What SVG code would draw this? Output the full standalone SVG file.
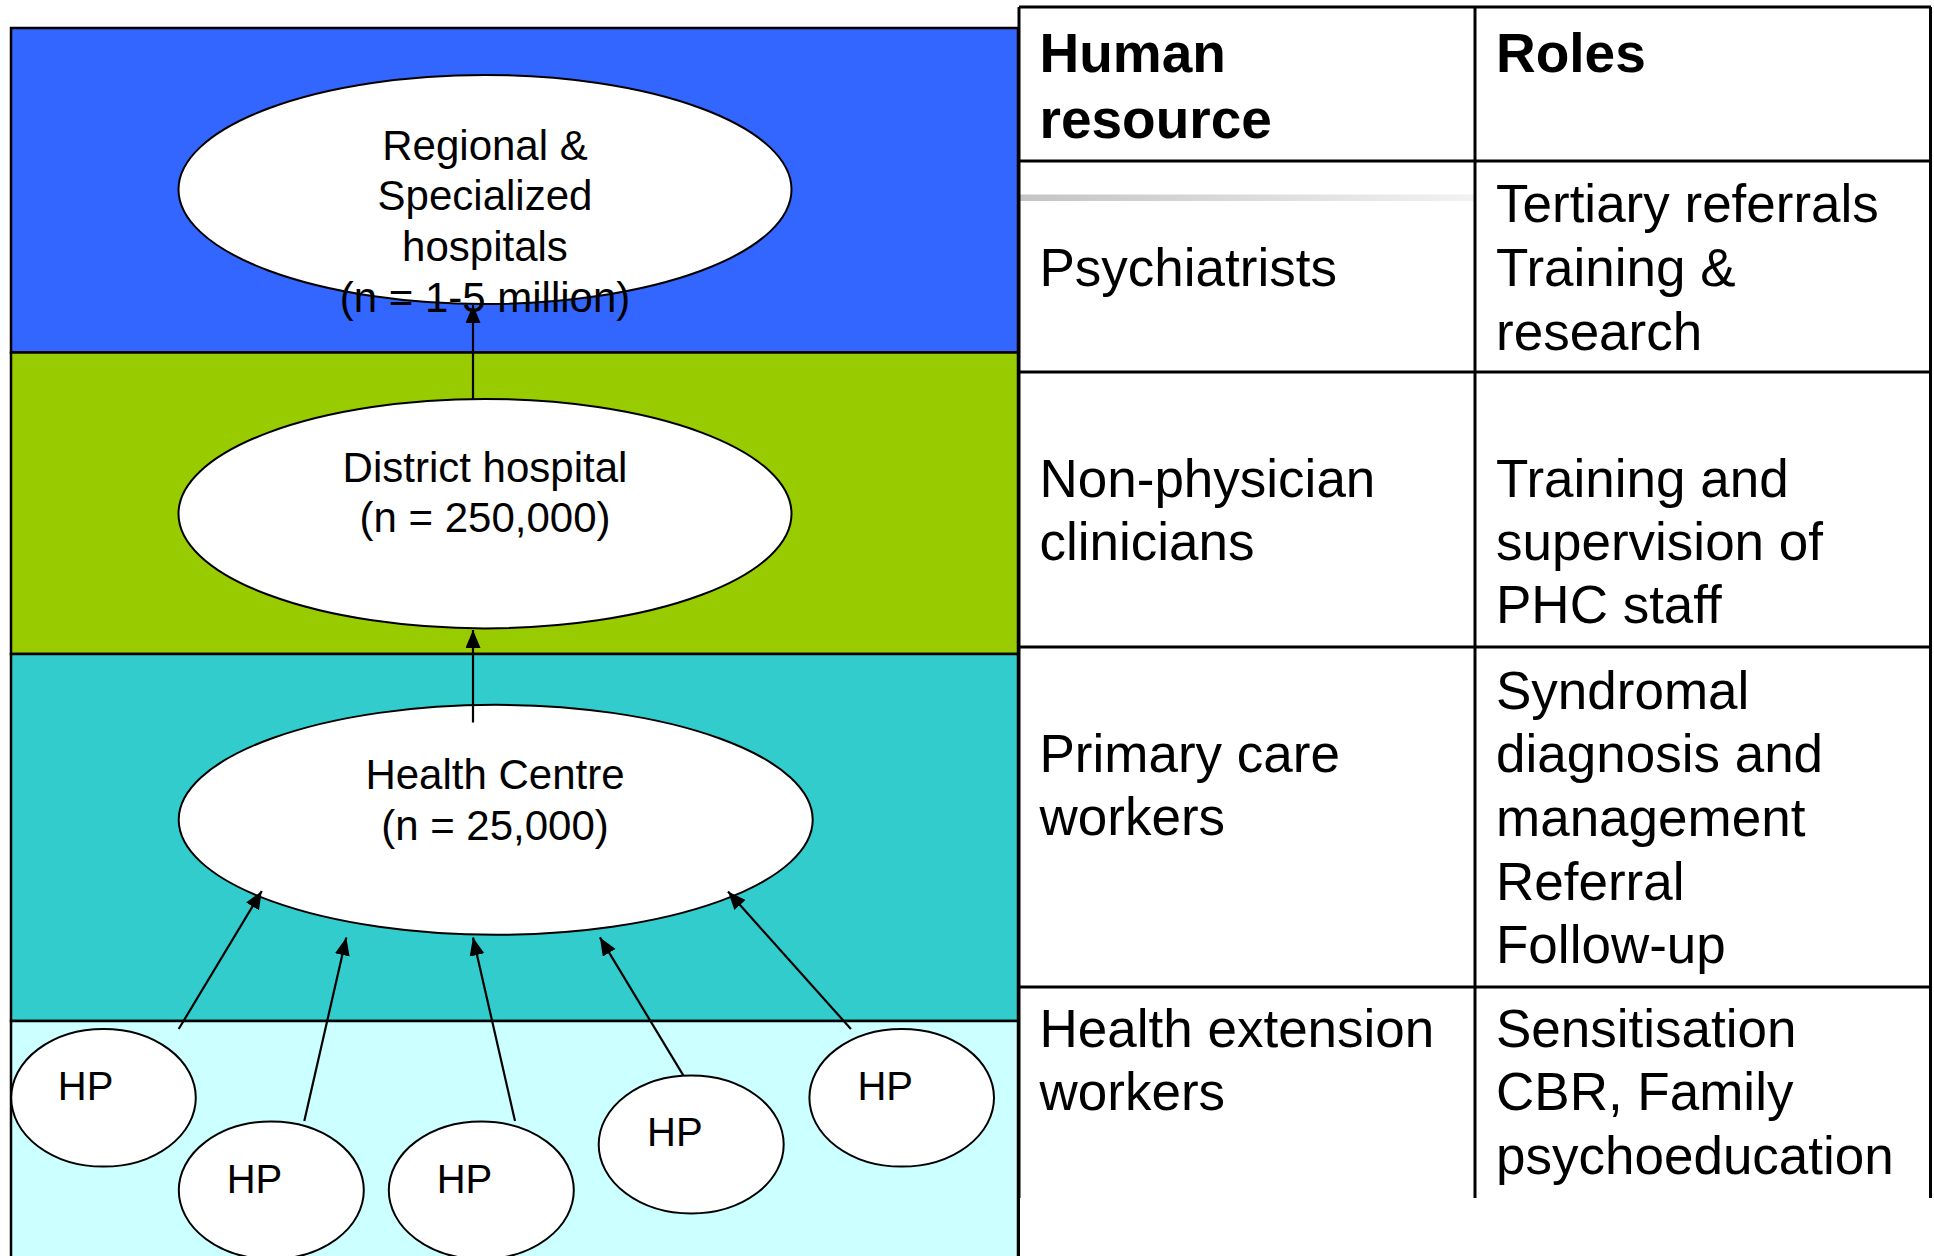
<svg xmlns="http://www.w3.org/2000/svg" width="1934" height="1256" viewBox="0 0 1934 1256">
  <style>
    .band { stroke: #000; stroke-width: 2.5; }
    .node { fill: #fff; stroke: #000; stroke-width: 2; }
    .lbl { font-family: "Liberation Sans", Arial, sans-serif; font-size: 42px; fill: #000; text-anchor: middle; }
    .hp { font-family: "Liberation Sans", Arial, sans-serif; font-size: 40px; fill: #000; }
    .edge { stroke: #000; stroke-width: 2.2; fill: none; marker-end: url(#head); }
    .grid { stroke: #000; stroke-width: 3; fill: none; }
    .th { font-family: "Liberation Sans", Arial, sans-serif; font-size: 55px; font-weight: bold; fill: #000; }
    .td { font-family: "Liberation Sans", Arial, sans-serif; font-size: 53px; fill: #000; }
  </style>
  <defs>
    <marker id="head" markerUnits="userSpaceOnUse" markerWidth="20" markerHeight="16" refX="18" refY="7.5" orient="auto">
      <path d="M0,0 L18,7.5 L0,15 z" fill="#000"/>
    </marker>
    <linearGradient id="fade" x1="0" y1="0" x2="1" y2="0">
      <stop offset="0" stop-color="#c4c4c4"/>
      <stop offset="1" stop-color="#f2f2f2"/>
    </linearGradient>
  </defs>

  <rect width="1934" height="1256" fill="#fff"/>

  <!-- service levels -->
  <g id="levels">
    <rect class="band" x="11" y="28" width="1007" height="324.5" fill="#3366FF"/>
    <rect class="band" x="11" y="352.5" width="1007" height="301.5" fill="#99CC00"/>
    <rect class="band" x="11" y="654" width="1007" height="367" fill="#33CCCC"/>
    <rect class="band" x="11" y="1021" width="1007" height="245" fill="#CCFFFF"/>
  </g>

  <!-- facilities -->
  <g id="regional">
    <ellipse class="node" cx="485" cy="189.5" rx="306.5" ry="114.5"/>
  </g>
  <g id="district">
    <ellipse class="node" cx="485" cy="513.7" rx="306.5" ry="114.7"/>
    <text class="lbl" x="485" y="481.9">District hospital</text>
    <text class="lbl" x="485" y="532.4">(n = 250,000)</text>
  </g>
  <g id="health-centre">
    <ellipse class="node" cx="495.7" cy="819.8" rx="317" ry="115"/>
    <text class="lbl" x="495" y="788.5">Health Centre</text>
    <text class="lbl" x="495" y="839.6">(n = 25,000)</text>
  </g>
  <g id="hp1">
    <ellipse class="node" cx="103.5" cy="1097.8" rx="92.3" ry="68.8"/>
    <text class="hp" x="57.8" y="1099.7">HP</text>
  </g>
  <g id="hp2">
    <ellipse class="node" cx="271.3" cy="1190.3" rx="92.5" ry="68.8"/>
    <text class="hp" x="226.7" y="1192.7">HP</text>
  </g>
  <g id="hp3">
    <ellipse class="node" cx="481.3" cy="1190.3" rx="92.5" ry="68.8"/>
    <text class="hp" x="436.7" y="1192.7">HP</text>
  </g>
  <g id="hp4">
    <ellipse class="node" cx="691.2" cy="1144.5" rx="92.5" ry="69"/>
    <text class="hp" x="647" y="1146">HP</text>
  </g>
  <g id="hp5">
    <ellipse class="node" cx="901.7" cy="1097.8" rx="92.3" ry="68.8"/>
    <text class="hp" x="857.4" y="1099.7">HP</text>
  </g>

  <!-- regional label overflows its ellipse -->
  <g id="regional-label">
    <text class="lbl" x="485" y="159.5">Regional &amp;</text>
    <text class="lbl" x="485" y="210.3">Specialized</text>
    <text class="lbl" x="485" y="261">hospitals</text>
    <text class="lbl" x="485" y="311.7">(n = 1-5 million)</text>
  </g>

  <!-- referral arrows -->
  <g id="connectors">
    <line class="edge" x1="473" y1="399" x2="473" y2="305"/>
    <line class="edge" x1="473" y1="722.5" x2="473" y2="630"/>
    <line class="edge" x1="178.7" y1="1029" x2="261.8" y2="891"/>
    <line class="edge" x1="304.3" y1="1121" x2="346.3" y2="937.4"/>
    <line class="edge" x1="515" y1="1121" x2="473" y2="937.4"/>
    <line class="edge" x1="683.3" y1="1075.4" x2="599.9" y2="937.4"/>
    <line class="edge" x1="850.9" y1="1029" x2="728" y2="891.5"/>
  </g>

  <!-- human resource table -->
  <g id="table">
    <rect x="1020" y="8.5" width="910" height="1189" fill="#fff"/>
    <rect x="1020" y="194.5" width="454" height="6.5" fill="url(#fade)"/>
    <path class="grid" d="M1019,7 H1931 M1019,161 H1931 M1019,372 H1931 M1019,647 H1931 M1019,987 H1931 M1019,7 V1198 M1475,7 V1198 M1930.5,7 V1198"/>
    <line x1="1018.5" y1="28" x2="1018.5" y2="1256" stroke="#000" stroke-width="3"/>

    <text class="th" x="1039.5" y="71.5">Human</text>
    <text class="th" x="1039.5" y="137.6">resource</text>
    <text class="th" x="1496" y="71.5">Roles</text>

    <text class="td" x="1039.5" y="286">Psychiatrists</text>
    <text class="td" x="1496" y="221.8">Tertiary referrals</text>
    <text class="td" x="1496" y="286">Training &amp;</text>
    <text class="td" x="1496" y="349.5">research</text>

    <text class="td" x="1039.5" y="496.6">Non-physician</text>
    <text class="td" x="1039.5" y="559.8">clinicians</text>
    <text class="td" x="1496" y="496.6">Training and</text>
    <text class="td" x="1496" y="559.8">supervision of</text>
    <text class="td" x="1496" y="623">PHC staff</text>

    <text class="td" x="1039.5" y="771.6">Primary care</text>
    <text class="td" x="1039.5" y="834.8">workers</text>
    <text class="td" x="1496" y="708.8">Syndromal</text>
    <text class="td" x="1496" y="771.6">diagnosis and</text>
    <text class="td" x="1496" y="835.5">management</text>
    <text class="td" x="1496" y="899.5">Referral</text>
    <text class="td" x="1496" y="963">Follow-up</text>

    <text class="td" x="1039.5" y="1046.7">Health extension</text>
    <text class="td" x="1039.5" y="1109.8">workers</text>
    <text class="td" x="1496" y="1046.7">Sensitisation</text>
    <text class="td" x="1496" y="1109.8">CBR, Family</text>
    <text class="td" x="1496" y="1174.4">psychoeducation</text>
  </g>
</svg>
